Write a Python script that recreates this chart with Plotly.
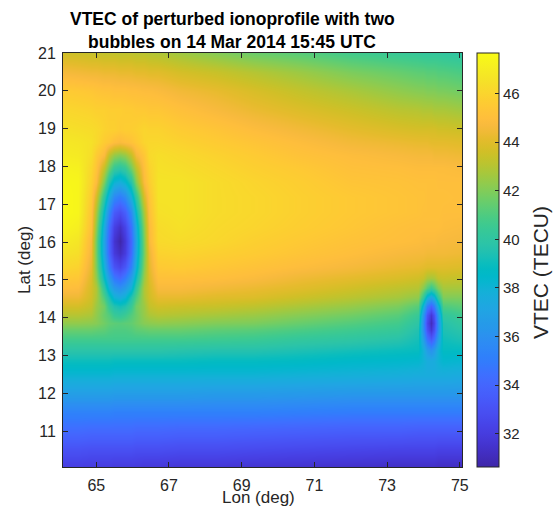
import plotly.graph_objects as go

# ---------------- data ----------------
lon_deg = [64.08, 64.5, 64.85, 65.0, 65.2, 65.35, 65.5, 65.64, 65.8, 65.95, 66.1, 66.3, 66.45, 66.7,
           67.3, 68.3, 69.3, 70.6, 72.0, 73.3, 73.85, 74.0, 74.1, 74.2, 74.3, 74.4, 74.55, 75.06]

lat_deg = [10.05, 10.5, 11.0, 11.5, 12.0, 12.5, 12.85, 13.15, 13.45, 13.67, 13.87, 14.07, 14.3, 14.55,
           14.8, 15.05, 15.35, 15.7, 16.04, 16.4, 16.8, 17.2, 17.6, 17.95, 18.3, 18.65, 19.0, 19.5,
           20.0, 20.5, 21.0]

# VTEC (TECU), one row per latitude (south -> north), one column per longitude
vtec_tecu = [
    [32.1, 32.1, 32.0, 32.0, 32.0, 32.0, 31.9, 31.9, 31.9, 31.9, 31.9, 31.8, 31.8, 31.8, 31.7, 31.7, 31.6, 31.5, 31.4, 31.3, 31.3, 31.3, 31.3, 31.3, 31.3, 31.2, 31.2, 31.2],
    [33.0, 33.0, 32.9, 32.9, 32.9, 32.9, 32.9, 32.9, 32.9, 32.9, 32.8, 32.8, 32.8, 32.8, 32.7, 32.7, 32.6, 32.5, 32.4, 32.3, 32.3, 32.3, 32.3, 32.3, 32.3, 32.2, 32.2, 32.2],
    [34.2, 34.2, 34.1, 34.1, 34.1, 34.1, 34.1, 34.1, 34.1, 34.1, 34.0, 34.0, 34.0, 34.0, 33.9, 33.9, 33.8, 33.7, 33.6, 33.6, 33.5, 33.5, 33.5, 33.5, 33.5, 33.5, 33.5, 33.5],
    [35.3, 35.3, 35.3, 35.3, 35.3, 35.3, 35.2, 35.2, 35.2, 35.2, 35.2, 35.2, 35.2, 35.2, 35.2, 35.2, 35.2, 35.1, 35.0, 35.0, 35.0, 35.0, 35.0, 35.0, 35.0, 35.0, 35.0, 35.0],
    [36.8, 36.8, 36.8, 36.8, 36.8, 36.8, 36.7, 36.7, 36.7, 36.7, 36.7, 36.7, 36.7, 36.7, 36.7, 36.6, 36.6, 36.5, 36.4, 36.4, 36.4, 36.4, 36.4, 36.4, 36.4, 36.4, 36.4, 36.4],
    [38.1, 38.1, 38.1, 38.1, 38.1, 38.1, 38.0, 38.0, 38.0, 38.0, 38.0, 38.0, 38.0, 38.0, 38.0, 38.0, 38.0, 37.9, 37.8, 37.7, 37.6, 37.6, 37.6, 37.6, 37.6, 37.6, 37.6, 37.5],
    [39.0, 39.0, 39.0, 39.0, 39.0, 39.0, 38.9, 38.9, 38.9, 38.9, 38.9, 38.9, 38.9, 38.9, 38.9, 38.8, 38.8, 38.7, 38.5, 38.4, 38.3, 38.0, 37.6, 37.5, 37.6, 38.0, 38.3, 38.2],
    [39.8, 39.8, 39.8, 39.8, 39.8, 39.8, 39.8, 39.8, 39.8, 39.8, 39.8, 39.8, 39.8, 39.8, 39.7, 39.6, 39.6, 39.4, 39.2, 39.0, 38.9, 37.9, 36.6, 36.0, 36.6, 37.9, 38.8, 38.8],
    [40.7, 40.7, 40.7, 40.7, 40.7, 40.7, 40.7, 40.7, 40.7, 40.7, 40.7, 40.7, 40.7, 40.7, 40.7, 40.6, 40.5, 40.2, 40.0, 39.7, 39.2, 36.9, 34.5, 33.4, 34.4, 36.8, 39.1, 39.4],
    [41.5, 41.5, 41.5, 41.4, 41.3, 41.1, 41.0, 41.0, 41.0, 41.1, 41.3, 41.4, 41.5, 41.5, 41.5, 41.3, 41.2, 40.9, 40.6, 40.3, 39.5, 36.1, 33.1, 31.7, 33.0, 36.0, 39.4, 39.8],
    [42.3, 42.3, 42.2, 42.1, 41.7, 41.4, 41.3, 41.2, 41.3, 41.4, 41.7, 42.1, 42.2, 42.3, 42.2, 42.0, 41.9, 41.5, 41.1, 40.7, 39.9, 36.0, 32.6, 31.1, 32.5, 35.9, 39.6, 40.2],
    [43.0, 43.0, 42.8, 42.3, 41.5, 41.1, 40.4, 40.2, 40.5, 41.1, 41.6, 42.4, 42.8, 43.0, 42.9, 42.7, 42.5, 42.1, 41.7, 41.2, 40.4, 36.5, 33.2, 31.7, 33.1, 36.4, 40.1, 40.6],
    [43.7, 43.7, 43.3, 42.5, 41.7, 40.3, 39.5, 39.2, 39.5, 40.4, 41.7, 42.5, 43.3, 43.6, 43.5, 43.4, 43.2, 42.8, 42.4, 41.9, 41.2, 38.1, 35.1, 33.9, 35.1, 37.9, 41.0, 41.3],
    [44.4, 44.4, 43.6, 42.8, 40.9, 39.3, 37.9, 37.5, 38.0, 39.5, 41.0, 42.8, 43.6, 44.2, 44.2, 44.0, 43.9, 43.5, 43.1, 42.7, 42.3, 40.3, 38.1, 37.2, 38.0, 40.2, 42.0, 42.0],
    [45.0, 44.9, 43.7, 42.9, 40.0, 37.8, 36.5, 36.0, 36.6, 37.9, 40.2, 42.9, 43.7, 44.7, 44.7, 44.5, 44.3, 44.0, 43.6, 43.2, 43.0, 42.1, 41.1, 40.4, 41.0, 42.0, 42.7, 42.7],
    [45.5, 45.4, 43.9, 42.3, 38.8, 36.6, 34.8, 34.2, 35.0, 36.7, 39.1, 42.5, 43.9, 45.1, 45.1, 45.0, 44.8, 44.4, 44.1, 43.8, 43.6, 43.4, 42.8, 42.7, 42.8, 43.3, 43.4, 43.3],
    [46.1, 45.9, 44.2, 41.9, 37.9, 35.0, 33.1, 32.5, 33.3, 35.2, 38.1, 42.1, 44.1, 45.5, 45.6, 45.4, 45.2, 44.9, 44.6, 44.3, 44.2, 44.1, 44.0, 44.0, 44.0, 44.0, 44.0, 43.9],
    [46.6, 46.4, 44.5, 41.7, 37.1, 33.9, 31.9, 31.2, 32.0, 34.2, 37.5, 41.8, 44.3, 45.9, 46.0, 45.8, 45.6, 45.3, 45.0, 44.7, 44.6, 44.6, 44.5, 44.5, 44.5, 44.5, 44.5, 44.4],
    [47.0, 46.7, 44.7, 41.7, 37.0, 33.8, 31.6, 30.7, 31.8, 34.0, 37.3, 41.9, 44.7, 46.2, 46.3, 46.1, 45.8, 45.5, 45.2, 45.0, 44.9, 44.8, 44.8, 44.8, 44.8, 44.7, 44.7, 44.6],
    [47.4, 47.1, 45.1, 42.2, 37.5, 34.3, 32.2, 31.4, 32.4, 34.5, 37.7, 42.2, 44.8, 46.3, 46.5, 46.2, 46.0, 45.7, 45.4, 45.1, 45.0, 45.0, 45.0, 45.0, 45.0, 45.0, 44.9, 44.8],
    [47.6, 47.4, 45.3, 42.8, 38.6, 35.6, 33.5, 32.9, 33.7, 35.7, 38.8, 42.8, 45.1, 46.5, 46.6, 46.3, 46.1, 45.8, 45.5, 45.3, 45.2, 45.1, 45.1, 45.1, 45.1, 45.1, 45.0, 45.0],
    [47.6, 47.4, 45.6, 43.7, 40.0, 37.5, 35.6, 35.0, 35.7, 37.7, 40.1, 43.8, 45.3, 46.6, 46.6, 46.3, 46.1, 45.8, 45.5, 45.3, 45.2, 45.2, 45.1, 45.1, 45.1, 45.1, 45.1, 45.0],
    [47.5, 47.4, 45.9, 44.9, 41.9, 39.6, 38.1, 37.7, 38.3, 39.7, 42.1, 44.8, 45.7, 46.6, 46.6, 46.3, 46.0, 45.7, 45.3, 45.2, 45.1, 45.1, 45.1, 45.1, 45.1, 45.0, 45.0, 45.0],
    [47.3, 47.2, 46.1, 45.3, 43.3, 41.6, 40.3, 39.9, 40.3, 41.7, 43.2, 45.1, 45.9, 46.5, 46.4, 46.1, 45.8, 45.5, 45.1, 45.0, 44.9, 44.9, 44.9, 44.9, 44.9, 44.9, 44.9, 44.8],
    [47.0, 46.9, 46.4, 45.6, 44.8, 43.2, 42.4, 42.1, 42.4, 43.3, 44.6, 45.4, 46.2, 46.4, 46.2, 45.9, 45.6, 45.2, 44.9, 44.7, 44.6, 44.6, 44.6, 44.6, 44.5, 44.5, 44.5, 44.4],
    [46.8, 46.7, 46.5, 46.2, 45.6, 45.4, 45.0, 44.8, 45.0, 45.2, 45.5, 46.0, 46.1, 46.1, 45.9, 45.6, 45.3, 44.9, 44.5, 44.3, 44.2, 44.2, 44.2, 44.1, 44.1, 44.1, 44.1, 44.0],
    [46.5, 46.4, 46.3, 46.2, 45.9, 45.8, 45.8, 45.6, 45.7, 45.7, 45.8, 46.0, 45.9, 45.9, 45.6, 45.3, 44.9, 44.5, 44.1, 43.8, 43.7, 43.7, 43.7, 43.7, 43.7, 43.6, 43.6, 43.5],
    [46.1, 46.0, 45.9, 45.8, 45.8, 45.7, 45.7, 45.7, 45.6, 45.6, 45.5, 45.5, 45.4, 45.4, 45.1, 44.7, 44.3, 43.9, 43.5, 43.1, 43.0, 42.9, 42.9, 42.9, 42.8, 42.8, 42.8, 42.6],
    [45.6, 45.5, 45.4, 45.3, 45.2, 45.2, 45.1, 45.1, 45.1, 45.0, 45.0, 44.9, 44.9, 44.8, 44.5, 44.2, 43.8, 43.3, 42.8, 42.3, 42.1, 42.1, 42.0, 42.0, 42.0, 41.9, 41.9, 41.7],
    [44.6, 44.5, 44.4, 44.4, 44.3, 44.3, 44.3, 44.2, 44.2, 44.2, 44.1, 44.1, 44.0, 44.0, 43.7, 43.4, 43.0, 42.5, 41.9, 41.5, 41.3, 41.3, 41.2, 41.2, 41.2, 41.1, 41.1, 40.9],
    [43.6, 43.5, 43.4, 43.4, 43.3, 43.3, 43.3, 43.2, 43.2, 43.2, 43.1, 43.1, 43.0, 42.9, 42.6, 42.1, 41.6, 41.2, 40.7, 40.4, 40.3, 40.2, 40.2, 40.2, 40.2, 40.2, 40.1, 40.0],
]

x_ticks = [65, 67, 69, 71, 73, 75]
y_ticks = [11, 12, 13, 14, 15, 16, 17, 18, 19, 20, 21]
cbar_ticks = [32, 34, 36, 38, 40, 42, 44, 46]
vtec_min, vtec_max = 30.63, 47.67
lon_range = [64.085, 75.06]
lat_range = [10.056, 21.0]
title_lines = ["VTEC of perturbed ionoprofile with two", "bubbles on 14 Mar 2014 15:45 UTC"]
x_label = "Lon (deg)"
y_label = "Lat (deg)"
cbar_label = "VTEC (TECU)"

# ---------------- parula colormap (64 entries) ----------------
parula = [
    [0.2422, 0.1504, 0.6603], [0.2504, 0.1650, 0.7076], [0.2578, 0.1818, 0.7511], [0.2647, 0.1978, 0.7952],
    [0.2706, 0.2147, 0.8364], [0.2751, 0.2342, 0.8710], [0.2783, 0.2559, 0.8991], [0.2803, 0.2782, 0.9221],
    [0.2813, 0.3006, 0.9414], [0.2810, 0.3228, 0.9579], [0.2795, 0.3447, 0.9717], [0.2760, 0.3667, 0.9829],
    [0.2699, 0.3892, 0.9906], [0.2602, 0.4123, 0.9952], [0.2440, 0.4358, 0.9988], [0.2206, 0.4603, 0.9973],
    [0.1963, 0.4847, 0.9892], [0.1834, 0.5074, 0.9798], [0.1786, 0.5289, 0.9682], [0.1764, 0.5499, 0.9520],
    [0.1687, 0.5703, 0.9359], [0.1540, 0.5902, 0.9218], [0.1460, 0.6091, 0.9079], [0.1380, 0.6276, 0.8973],
    [0.1248, 0.6459, 0.8883], [0.1113, 0.6635, 0.8763], [0.0952, 0.6798, 0.8598], [0.0689, 0.6948, 0.8394],
    [0.0297, 0.7082, 0.8163], [0.0036, 0.7203, 0.7917], [0.0067, 0.7312, 0.7660], [0.0433, 0.7411, 0.7394],
    [0.0964, 0.7500, 0.7120], [0.1408, 0.7584, 0.6842], [0.1717, 0.7670, 0.6554], [0.1938, 0.7758, 0.6251],
    [0.2161, 0.7843, 0.5923], [0.2470, 0.7918, 0.5567], [0.2906, 0.7973, 0.5188], [0.3406, 0.8008, 0.4789],
    [0.3909, 0.8029, 0.4354], [0.4456, 0.8024, 0.3909], [0.5044, 0.7993, 0.3480], [0.5616, 0.7942, 0.3045],
    [0.6174, 0.7876, 0.2612], [0.6720, 0.7793, 0.2227], [0.7242, 0.7698, 0.1910], [0.7738, 0.7598, 0.1646],
    [0.8203, 0.7498, 0.1535], [0.8634, 0.7406, 0.1596], [0.9035, 0.7330, 0.1774], [0.9393, 0.7288, 0.2100],
    [0.9728, 0.7298, 0.2394], [0.9956, 0.7434, 0.2371], [0.9970, 0.7659, 0.2199], [0.9952, 0.7893, 0.2028],
    [0.9892, 0.8136, 0.1885], [0.9786, 0.8386, 0.1766], [0.9676, 0.8639, 0.1643], [0.9610, 0.8890, 0.1537],
    [0.9597, 0.9135, 0.1423], [0.9628, 0.9373, 0.1265], [0.9691, 0.9606, 0.1064], [0.9769, 0.9839, 0.0805],
]
n = len(parula) - 1
colorscale = [[i / n, "rgb(%d,%d,%d)" % tuple(round(c * 255) for c in rgb)] for i, rgb in enumerate(parula)]

# ---------------- layout geometry (pixels) ----------------
W, H = 557, 514
ML, MR, MT, MB = 63, 95, 53, 47
PW, PH = W - ML - MR, H - MT - MB


def px(xpix):
    return (xpix - ML) / PW


def py(ypix):
    return (H - MB - ypix) / PH


FONT = "Liberation Sans, Arial, Helvetica, sans-serif"
INK = "#262626"

fig = go.Figure()
fig.add_trace(go.Heatmap(
    x=lon_deg, y=lat_deg, z=vtec_tecu,
    zsmooth="best", colorscale=colorscale, zmin=vtec_min, zmax=vtec_max,
    hoverinfo="skip",
    colorbar=dict(
        x=px(477.3), xanchor="left", xpad=0,
        y=0.5, yanchor="middle", len=1, lenmode="fraction", ypad=0,
        thickness=22, thicknessmode="pixels",
        outlinewidth=1, outlinecolor=INK,
        ticks="inside", ticklen=4, tickwidth=1, tickcolor=INK,
        tickvals=cbar_ticks, tickfont=dict(family=FONT, size=15, color=INK),
    ),
))

axis_common = dict(
    ticks="inside", ticklen=5, tickwidth=1, tickcolor=INK,
    showline=True, linecolor=INK, linewidth=1, mirror="ticks",
    showgrid=False, zeroline=False,
    tickfont=dict(family=FONT, size=16, color=INK),
)
fig.update_xaxes(range=lon_range, tickvals=x_ticks, ticklabelstandoff=4, **axis_common)
fig.update_yaxes(range=lat_range, tickvals=y_ticks, ticklabelstandoff=3, **axis_common)

annotations = [
    dict(text="<b>%s</b>" % title_lines[0], x=px(232), y=py(19), xanchor="center", yanchor="middle",
         font=dict(family=FONT, size=17.5, color="#000000")),
    dict(text="<b>%s</b>" % title_lines[1], x=px(232), y=py(42), xanchor="center", yanchor="middle",
         font=dict(family=FONT, size=17.5, color="#000000")),
    dict(text=x_label, x=px(258), y=py(497), xanchor="center", yanchor="middle",
         font=dict(family=FONT, size=17, color=INK)),
    dict(text=y_label, x=px(24), y=py(260), xanchor="center", yanchor="middle", textangle=-90,
         font=dict(family=FONT, size=17, color=INK)),
    dict(text=cbar_label, x=px(540), y=py(273), xanchor="center", yanchor="middle", textangle=-90,
         font=dict(family=FONT, size=21, color=INK)),
]
for a in annotations:
    a.update(xref="paper", yref="paper", showarrow=False)

fig.update_layout(
    width=W, height=H,
    margin=dict(l=ML, r=MR, t=MT, b=MB, pad=0),
    paper_bgcolor="white", plot_bgcolor="white",
    font=dict(family=FONT, color=INK),
    annotations=annotations,
    showlegend=False,
)

fig.write_html(
    "out.html",
    config={"displayModeBar": False},
    post_script="document.body.style.margin='0';document.body.style.overflow='hidden';",
)
